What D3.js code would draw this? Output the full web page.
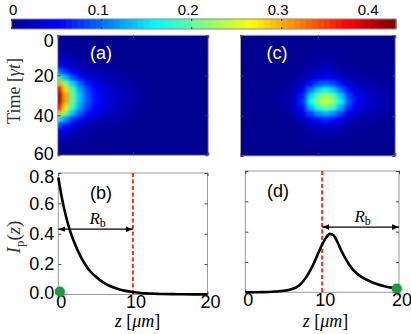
<!DOCTYPE html>
<html lang="en">
<head>
<meta charset="UTF-8" />
<title>Field intensity maps and profiles</title>
<style>
  body { margin: 0; background: #fff; }
  svg { display: block; }
</style>
</head>
<body>
<div id="chart"></div>
<script src="https://d3js.org/d3.v7.min.js"></script>
<script>
  // ---- data ----
  const zGrid = [0, 1, 2, 3, 4, 5, 6, 7, 8, 9, 10, 11, 12, 13, 14, 15, 16, 17, 18, 19, 20];
  const tGrid = [0, 3, 6, 9, 12, 15, 18, 21, 24, 27, 30, 33, 36, 39, 42, 45, 48, 51, 54, 57, 60];

  // panel (a): rows are times (tGrid), columns are positions (zGrid)
  const heatA = [
    [.002, .001, .001, .001, 0, 0, 0, 0, 0, 0, 0, 0, 0, 0, 0, 0, 0, 0, 0, 0, 0],
    [.004, .003, .002, .001, .001, .001, 0, 0, 0, 0, 0, 0, 0, 0, 0, 0, 0, 0, 0, 0, 0],
    [.008, .006, .004, .002, .002, .001, .001, .001, 0, 0, 0, 0, 0, 0, 0, 0, 0, 0, 0, 0, 0],
    [.016, .011, .008, .005, .003, .002, .002, .001, .001, .001, 0, 0, 0, 0, 0, 0, 0, 0, 0, 0, 0],
    [.030, .021, .014, .009, .006, .004, .003, .002, .002, .001, .001, 0, 0, 0, 0, 0, 0, 0, 0, 0, 0],
    [.055, .039, .026, .017, .011, .008, .006, .004, .003, .002, .001, .001, 0, 0, 0, 0, 0, 0, 0, 0, 0],
    [.105, .074, .049, .032, .021, .015, .011, .008, .006, .004, .002, .001, .001, 0, 0, 0, 0, 0, 0, 0, 0],
    [.185, .133, .087, .057, .037, .026, .019, .014, .010, .007, .004, .002, .001, .001, 0, 0, 0, 0, 0, 0, 0],
    [.300, .216, .141, .093, .060, .042, .030, .022, .016, .011, .007, .004, .002, .001, 0, 0, 0, 0, 0, 0, 0],
    [.390, .281, .183, .121, .078, .055, .039, .029, .021, .015, .009, .005, .002, .001, 0, 0, 0, 0, 0, 0, 0],
    [.427, .307, .201, .132, .085, .060, .043, .032, .023, .016, .009, .005, .003, .001, 0, 0, 0, 0, 0, 0, 0],
    [.425, .306, .200, .132, .085, .060, .043, .032, .023, .016, .009, .005, .003, .001, 0, 0, 0, 0, 0, 0, 0],
    [.380, .274, .179, .118, .076, .053, .038, .029, .021, .014, .008, .005, .002, .001, 0, 0, 0, 0, 0, 0, 0],
    [.290, .209, .136, .090, .058, .041, .029, .022, .016, .011, .006, .003, .002, .001, 0, 0, 0, 0, 0, 0, 0],
    [.165, .119, .078, .051, .033, .023, .017, .012, .009, .006, .004, .002, .001, 0, 0, 0, 0, 0, 0, 0, 0],
    [.092, .064, .043, .028, .018, .013, .009, .007, .005, .003, .002, .001, .001, 0, 0, 0, 0, 0, 0, 0, 0],
    [.050, .035, .024, .016, .010, .007, .005, .004, .003, .002, .001, .001, 0, 0, 0, 0, 0, 0, 0, 0, 0],
    [.027, .019, .013, .008, .005, .004, .003, .002, .001, .001, .001, 0, 0, 0, 0, 0, 0, 0, 0, 0, 0],
    [.014, .010, .007, .004, .003, .002, .001, .001, .001, .001, 0, 0, 0, 0, 0, 0, 0, 0, 0, 0, 0],
    [.007, .005, .003, .002, .001, .001, .001, .001, 0, 0, 0, 0, 0, 0, 0, 0, 0, 0, 0, 0, 0],
    [.003, .002, .001, .001, .001, 0, 0, 0, 0, 0, 0, 0, 0, 0, 0, 0, 0, 0, 0, 0, 0]
  ];

  // panel (c)
  const heatC = [
    [0, 0, 0, 0, 0, 0, 0, 0, 0, 0, .001, .001, .001, 0, 0, 0, 0, 0, 0, 0, 0],
    [0, 0, 0, 0, 0, 0, 0, 0, 0, .001, .001, .001, .001, .001, 0, 0, 0, 0, 0, 0, 0],
    [0, 0, 0, 0, 0, 0, 0, 0, .001, .001, .002, .003, .002, .001, .001, 0, 0, 0, 0, 0, 0],
    [0, 0, 0, 0, 0, 0, 0, .001, .001, .003, .004, .005, .004, .003, .002, .001, .001, 0, 0, 0, 0],
    [0, 0, 0, 0, 0, 0, 0, .001, .003, .005, .007, .009, .007, .005, .003, .002, .001, .001, .001, .001, 0],
    [0, 0, 0, 0, 0, 0, .001, .002, .004, .009, .013, .015, .013, .008, .005, .003, .002, .002, .001, .001, .001],
    [0, 0, 0, 0, 0, .001, .001, .004, .008, .016, .024, .029, .024, .016, .009, .006, .004, .003, .002, .002, .001],
    [0, 0, 0, 0, .001, .001, .003, .006, .014, .028, .040, .048, .040, .027, .016, .010, .007, .005, .004, .003, .002],
    [0, 0, 0, 0, .001, .002, .005, .012, .028, .059, .083, .095, .083, .057, .034, .021, .015, .010, .007, .005, .004],
    [0, 0, 0, .001, .002, .004, .007, .020, .045, .100, .140, .160, .140, .096, .056, .034, .024, .016, .011, .009, .006],
    [0, 0, .001, .001, .003, .005, .010, .028, .064, .145, .200, .228, .200, .140, .078, .047, .033, .022, .016, .012, .009],
    [0, 0, .001, .001, .003, .006, .011, .032, .072, .160, .220, .250, .220, .155, .088, .053, .036, .024, .018, .013, .010],
    [0, 0, .001, .001, .002, .005, .009, .026, .058, .130, .180, .205, .180, .125, .070, .043, .029, .019, .014, .011, .008],
    [0, 0, 0, .001, .001, .003, .006, .016, .037, .080, .112, .128, .112, .077, .045, .028, .019, .013, .009, .007, .005],
    [0, 0, 0, 0, .001, .002, .003, .009, .020, .042, .059, .068, .059, .041, .024, .015, .011, .007, .005, .004, .003],
    [0, 0, 0, 0, 0, .001, .002, .004, .009, .019, .027, .033, .027, .018, .011, .007, .005, .004, .003, .002, .001],
    [0, 0, 0, 0, 0, 0, .001, .002, .005, .010, .015, .018, .015, .010, .006, .004, .003, .002, .001, .001, .001],
    [0, 0, 0, 0, 0, 0, 0, .001, .003, .006, .008, .010, .008, .005, .003, .002, .001, .001, .001, .001, 0],
    [0, 0, 0, 0, 0, 0, 0, 0, .002, .003, .005, .006, .005, .003, .002, .001, .001, 0, 0, 0, 0],
    [0, 0, 0, 0, 0, 0, 0, 0, 0, .001, .002, .003, .002, .001, .001, 0, 0, 0, 0, 0, 0],
    [0, 0, 0, 0, 0, 0, 0, 0, 0, 0, .001, .001, .001, 0, 0, 0, 0, 0, 0, 0, 0]
  ];

  // panel (b) profile
  const zB = [0, 0.5, 1, 1.5, 2, 3, 4, 5, 6, 7, 8, 9, 10, 11, 12, 13, 14, 16, 18, 20];
  const ipB = [0.77, 0.63, 0.52, 0.43, 0.36, 0.25, 0.17, 0.118, 0.08, 0.054, 0.036, 0.024, 0.016, 0.01, 0.007, 0.005, 0.003, 0.002, 0.001, 0.001];

  // panel (d) profile
  const zD = [0, 1, 2, 3, 4, 5, 6, 7, 8, 8.5, 9, 9.5, 10, 10.5, 11, 11.5, 12, 12.5, 13, 14, 15, 16, 17, 18, 19, 20];
  const ipD = [0, 0, 0.001, 0.002, 0.005, 0.01, 0.02, 0.045, 0.105, 0.15, 0.2, 0.26, 0.315, 0.36, 0.385, 0.375, 0.33, 0.275, 0.225, 0.15, 0.105, 0.078, 0.057, 0.042, 0.031, 0.024];

  const dotB = [0.2, 0.02];
  const dotD = [19.7, 0.025];
  const spanB = [0, 10];
  const spanD = [10, 20];
  const arrowLevel = 0.43;
  const markerZ = 10;

  const colorMax = 0.427;
  const colorTicks = [0, 0.1, 0.2, 0.3, 0.4];
  const timeTicks = [0, 20, 40, 60];
  const zTicks = [0, 10, 20];
  const ipTicks = [0, 0.2, 0.4, 0.6, 0.8];

  // ---- drawing ----
  const width = 411, height = 334;
  const sans = "'Liberation Sans', Arial, Helvetica, sans-serif";
  const serif = "'Liberation Serif', 'DejaVu Serif', 'Times New Roman', serif";

  const svg = d3.select("#chart").append("svg")
    .attr("width", width).attr("height", height);
  svg.append("rect").attr("width", width).attr("height", height).attr("fill", "#fff");

  // matlab-style jet colormap
  const jet = d3.scaleLinear()
    .domain([0, 0.125, 0.375, 0.625, 0.875, 1].map(s => s * colorMax))
    .range(["#000090", "#0000ff", "#00ffff", "#ffff00", "#ff0000", "#800000"])
    .interpolate(d3.interpolateRgb)
    .clamp(true);

  const defs = svg.append("defs");

  // soften the cell grid a bit (like shading interp)
  const smooth = defs.append("filter").attr("id", "smooth")
    .attr("x", 0).attr("y", 0).attr("width", 1).attr("height", 1)
    .attr("color-interpolation-filters", "sRGB");
  smooth.append("feGaussianBlur").attr("stdDeviation", "2.2 1.8");
  smooth.append("feComponentTransfer")
    .append("feFuncA").attr("type", "table").attr("tableValues", "1 1");

  const shadow = defs.append("filter").attr("id", "shadow")
    .attr("x", -1).attr("y", -1).attr("width", 3).attr("height", 3);
  shadow.append("feDropShadow").attr("dx", 1).attr("dy", 1.5)
    .attr("stdDeviation", 1.5).attr("flood-color", "#000").attr("flood-opacity", 0.35);

  defs.append("marker").attr("id", "arrowhead")
    .attr("viewBox", "0 0 10 10").attr("refX", 10).attr("refY", 5)
    .attr("markerWidth", 7).attr("markerHeight", 7)
    .attr("markerUnits", "userSpaceOnUse")
    .attr("orient", "auto-start-reverse")
    .append("path").attr("d", "M0,1 L10,5 L0,9 Z").attr("fill", "#000");

  function axisTicks(g, axisFn, scale, values, fmt, padding) {
    g.call(axisFn(scale).tickValues(values)
      .tickSizeInner(-3).tickSizeOuter(0)
      .tickPadding(padding == null ? 4 : padding)
      .tickFormat(fmt || (() => "")));
    g.select(".domain").remove();
    g.selectAll(".tick line").attr("stroke", "#444");
    g.selectAll("text").attr("font-family", sans).attr("font-size", 18).attr("fill", "#000");
    return g;
  }

  // colorbar
  const cbX = d3.scaleLinear().domain([0, colorMax]).range([11.7, 396]);
  const cbY0 = 19, cbY1 = 29;
  const levels = d3.range(64);
  svg.append("g").selectAll("rect").data(levels).join("rect")
    .attr("x", i => cbX(i * colorMax / 64))
    .attr("y", cbY0)
    .attr("width", cbX(colorMax / 64) - cbX(0) + 0.4)
    .attr("height", cbY1 - cbY0)
    .attr("fill", i => jet((i + 0.5) * colorMax / 64));
  svg.append("rect").attr("x", cbX(0)).attr("y", cbY0)
    .attr("width", cbX(colorMax) - cbX(0)).attr("height", cbY1 - cbY0)
    .attr("fill", "none").attr("stroke", "#888");
  const cbTick = svg.append("g").selectAll("g").data(colorTicks).join("g");
  cbTick.append("line")
    .attr("x1", d => cbX(d)).attr("x2", d => cbX(d))
    .attr("y1", cbY0).attr("y2", cbY0 + 2).attr("stroke", "#333");
  cbTick.append("line")
    .attr("x1", d => cbX(d)).attr("x2", d => cbX(d))
    .attr("y1", cbY1 - 2).attr("y2", cbY1).attr("stroke", "#333");
  cbTick.append("text")
    .attr("x", d => cbX(d) + (d === 0 ? 1.5 : -3.5))
    .attr("y", 15)
    .attr("text-anchor", "middle")
    .attr("font-family", sans).attr("font-size", 15)
    .text(d => d === 0 ? "0" : d3.format(".1f")(d));

  // heat maps
  function drawHeat(grid, box, id, tag, showY) {
    const x = d3.scaleLinear().domain([0, 20]).range([box.x0, box.x1]);
    const y = d3.scaleLinear().domain([0, 60]).range([box.y0, box.y1]);
    const xb = d3.scaleBand().domain(zGrid).range([x(-0.5), x(20.5)]);
    const yb = d3.scaleBand().domain(tGrid).range([y(-1.5), y(61.5)]);

    defs.append("clipPath").attr("id", "clip-" + id)
      .append("rect").attr("x", box.x0).attr("y", box.y0)
      .attr("width", box.x1 - box.x0).attr("height", box.y1 - box.y0);

    const cells = grid.flatMap((row, i) => row.map((v, j) => ({ t: tGrid[i], z: zGrid[j], v })));
    svg.append("g").attr("clip-path", "url(#clip-" + id + ")")
      .append("g").attr("filter", "url(#smooth)")
      .selectAll("rect").data(cells).join("rect")
      .attr("x", d => xb(d.z)).attr("y", d => yb(d.t))
      .attr("width", xb.bandwidth() + 0.6).attr("height", yb.bandwidth() + 0.6)
      .attr("fill", d => jet(d.v));

    svg.append("rect").attr("x", box.x0).attr("y", box.y0)
      .attr("width", box.x1 - box.x0).attr("height", box.y1 - box.y0)
      .attr("fill", "none").attr("stroke", "#a8a8a8");

    const left = axisTicks(svg.append("g").attr("transform", `translate(${box.x0},0)`),
      d3.axisLeft, y, timeTicks, showY ? (d => d) : null, 4);
    left.selectAll("text").attr("dy", d => d === 0 ? "0.62em" : (d === 60 ? "0.22em" : "0.32em"));
    axisTicks(svg.append("g").attr("transform", `translate(${box.x1},0)`), d3.axisRight, y, timeTicks);
    axisTicks(svg.append("g").attr("transform", `translate(0,${box.y0})`), d3.axisTop, x, zTicks);
    axisTicks(svg.append("g").attr("transform", `translate(0,${box.y1})`), d3.axisBottom, x, zTicks);

    svg.append("text").attr("x", box.tagX).attr("y", box.y0 + 24)
      .attr("text-anchor", "middle").attr("font-family", sans).attr("font-size", 18)
      .attr("fill", "#fff").text(tag);
  }

  drawHeat(heatA, { x0: 57.7, x1: 208.3, y0: 35.3, y1: 155.3, tagX: 101 }, "a", "(a)", true);
  drawHeat(heatC, { x0: 240.5, x1: 395.3, y0: 35.3, y1: 156, tagX: 277 }, "c", "(c)", false);

  // profiles
  function drawProfile(zs, vals, box, id, tag, showY, span, dot) {
    const x = d3.scaleLinear().domain([0, 20]).range([box.x0, box.x1]);
    const y = d3.scaleLinear().domain([0, 0.8]).range([box.y1, box.y0]);

    svg.append("rect").attr("x", box.x0).attr("y", box.y0)
      .attr("width", box.x1 - box.x0).attr("height", box.y1 - box.y0)
      .attr("fill", "none").attr("stroke", "#9a9a9a");

    const left = axisTicks(svg.append("g").attr("transform", `translate(${box.x0},0)`),
      d3.axisLeft, y, ipTicks, showY ? d3.format(".1f") : null, 4);
    left.selectAll("text").attr("dy", d => d === 0.8 ? "0.55em" : (d === 0 ? "0.2em" : "0.32em"));
    axisTicks(svg.append("g").attr("transform", `translate(${box.x1},0)`), d3.axisRight, y, ipTicks);
    axisTicks(svg.append("g").attr("transform", `translate(0,${box.y0})`), d3.axisTop, x, zTicks);
    const bottom = axisTicks(svg.append("g").attr("transform", `translate(0,${box.y1})`),
      d3.axisBottom, x, zTicks, d => d, 1);
    bottom.selectAll("text").attr("dx", 2.5);

    // range marker
    svg.append("line")
      .attr("x1", x(markerZ)).attr("x2", x(markerZ))
      .attr("y1", box.y0).attr("y2", box.y1)
      .attr("stroke", "#ff2a10").attr("stroke-width", 2).attr("stroke-dasharray", "4,2.5");

    const line = d3.line().x((d, i) => x(zs[i])).y(d => y(d)).curve(d3.curveMonotoneX);
    svg.append("path").datum(vals).attr("d", line)
      .attr("fill", "none").attr("stroke", "#000").attr("stroke-width", 2.6);

    svg.append("line")
      .attr("x1", x(span[0])).attr("x2", x(span[1]))
      .attr("y1", y(arrowLevel)).attr("y2", y(arrowLevel))
      .attr("stroke", "#000").attr("stroke-width", 1.2)
      .attr("marker-start", "url(#arrowhead)").attr("marker-end", "url(#arrowhead)");

    const rb = svg.append("text")
      .attr("x", (x(span[0]) + x(span[1])) / 2 + 2)
      .attr("y", y(arrowLevel) - 5)
      .attr("text-anchor", "middle").attr("font-family", serif).attr("font-size", 17);
    rb.append("tspan").attr("font-style", "italic").text("R");
    rb.append("tspan").attr("font-size", 12).attr("dy", 3).text("b");

    svg.append("circle").attr("cx", x(dot[0])).attr("cy", y(dot[1])).attr("r", 5)
      .attr("fill", "#1a9a3c").attr("filter", "url(#shadow)");

    svg.append("text").attr("x", box.tagX).attr("y", box.y0 + 26)
      .attr("text-anchor", "middle").attr("font-family", sans).attr("font-size", 18)
      .attr("fill", "#000").text(tag);

    const zl = svg.append("text").attr("x", box.labelX).attr("y", 327)
      .attr("text-anchor", "middle").attr("font-family", serif).attr("font-size", 18);
    zl.append("tspan").attr("font-style", "italic").text("z");
    zl.append("tspan").text(" [");
    zl.append("tspan").attr("font-style", "italic").text("μm");
    zl.append("tspan").text("]");
  }

  drawProfile(zB, ipB, { x0: 58.3, x1: 207.5, y0: 173, y1: 294.5, tagX: 101, labelX: 137.5 }, "b", "(b)", true, spanB, dotB);
  drawProfile(zD, ipD, { x0: 245.3, x1: 399, y0: 171, y1: 292.3, tagX: 278, labelX: 325.5 }, "d", "(d)", false, spanD, dotD);

  // y-axis titles
  const tl = svg.append("text").attr("transform", "translate(19.5,91) rotate(-90)")
    .attr("text-anchor", "middle").attr("font-family", serif).attr("font-size", 18).attr("fill", "#333");
  tl.append("tspan").text("Time [");
  tl.append("tspan").attr("font-style", "italic").text("γt");
  tl.append("tspan").text("]");

  const il = svg.append("text").attr("transform", "translate(19.5,237) rotate(-90)")
    .attr("text-anchor", "middle").attr("font-family", serif).attr("font-size", 19).attr("fill", "#333");
  il.append("tspan").attr("font-style", "italic").text("I");
  il.append("tspan").attr("font-size", 13).attr("dy", 4).text("p");
  il.append("tspan").attr("dy", -4).text("(");
  il.append("tspan").attr("font-style", "italic").text("z");
  il.append("tspan").text(")");
</script>
</body>
</html>
